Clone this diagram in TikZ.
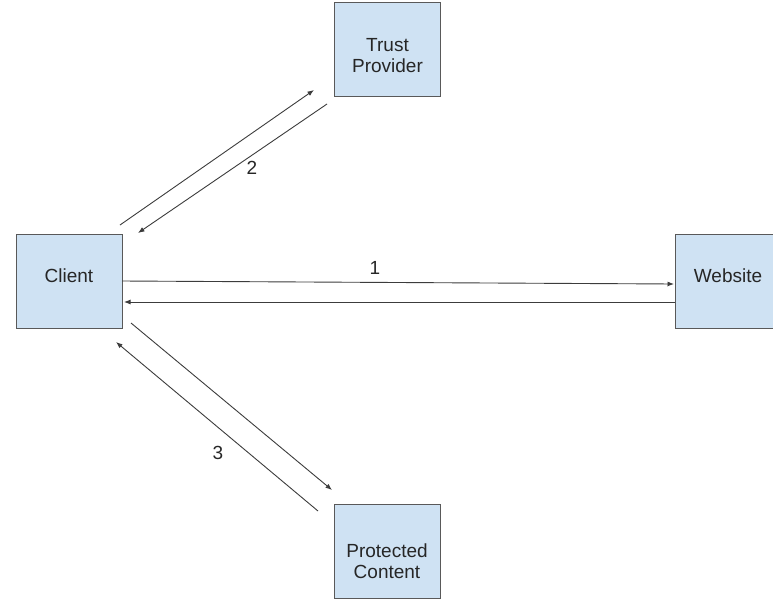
\documentclass[tikz,border=0pt]{standalone}
\usepackage{fontspec}
\setmainfont{Liberation Sans}
\usepackage{xcolor}
\usetikzlibrary{arrows.meta,positioning}
\definecolor{boxfill}{HTML}{CFE2F3}
\definecolor{boxline}{HTML}{595959}
\definecolor{arrowline}{HTML}{3C3C3C}
\newcommand{\twolines}[2]{\begin{tabular}[b]{@{}c@{}}#1\\#2\end{tabular}}
\tikzset{
  party/.style={draw=boxline, fill=boxfill, line width=1pt, inner sep=0pt,
    minimum width=106pt, minimum height=94pt, text=black!85, font=\fontsize{19}{21}\selectfont},
  oneline/.style={party, text height=16pt, text depth=14pt},
  line/.style={-{Latex[length=6.5pt,width=5pt]}, draw=arrowline, line width=0.9pt},
  tag/.style={text=black!85, font=\fontsize{19}{21}\selectfont}
}

\begin{document}
\begin{tikzpicture}[x=1pt,y=-1pt]
  \useasboundingbox (0,0) rectangle (773,600);
  \clip (0,0) rectangle (773,600);

  \node[oneline] (client) at (69,281) {Client};
  \node[party, text height=46pt, text depth=0pt] (trust) at (387.5,49.5) {\twolines{Trust}{Provider}};
  \node[oneline] (site) at (728,281) {Website};
  \node[party, text height=54pt, text depth=0pt] (content) at (387,551) {\twolines{Protected}{Content}};

  % end points of the connectors
  \coordinate (c1) at (122,281);  \coordinate (s1) at (674,284);
  \coordinate (s2) at (675,302);  \coordinate (c2) at (124,302);
  \coordinate (c3) at (120,225);  \coordinate (t1) at (314,90);
  \coordinate (t2) at (327,104);  \coordinate (c4) at (138,233);
  \coordinate (c5) at (131,323);  \coordinate (p1) at (332,490);
  \coordinate (p2) at (318,511);  \coordinate (c6) at (116,342);

  \draw[line] (c1) -- (s1);
  \draw[line] (s2) -- (c2);
  \draw[line] (c3) -- (t1);
  \draw[line] (t2) -- (c4);
  \draw[line] (c5) -- (p1);
  \draw[line] (p2) -- (c6);

  \node[tag] (n1) at (375,268) {1};
  \node[tag] (n2) at (252,168) {2};
  \node[tag] (n3) at (218,453) {3};
\end{tikzpicture}
\end{document}
